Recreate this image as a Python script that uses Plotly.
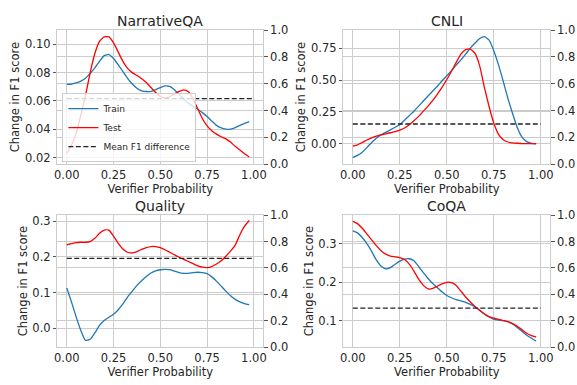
import plotly.graph_objects as go

# ---------------- data ----------------
verifier_prob = [0.000, 0.025, 0.050, 0.075, 0.100, 0.125, 0.150, 0.175, 0.200, 0.225,
                 0.250, 0.275, 0.300, 0.325, 0.350, 0.375, 0.400, 0.425, 0.450, 0.475,
                 0.500, 0.525, 0.550, 0.575, 0.600, 0.625, 0.650, 0.675, 0.700, 0.725,
                 0.750, 0.775, 0.800, 0.825, 0.850, 0.875, 0.900, 0.925, 0.950, 0.975]
mean_x = [0.0, 1.0]

narrativeqa_train = [0.0717, 0.0720, 0.0727, 0.0740, 0.0761, 0.0795, 0.0834, 0.0880, 0.0920, 0.0928,
                     0.0900, 0.0855, 0.0808, 0.0760, 0.0720, 0.0690, 0.0672, 0.0667, 0.0668, 0.0680,
                     0.0695, 0.0706, 0.0703, 0.0680, 0.0648, 0.0615, 0.0585, 0.0562, 0.0542, 0.0518,
                     0.0490, 0.0458, 0.0428, 0.0410, 0.0401, 0.0402, 0.0412, 0.0428, 0.0442, 0.0455]
narrativeqa_test = [0.0230, 0.0290, 0.0370, 0.0500, 0.0640, 0.0800, 0.0935, 0.1020, 0.1053, 0.1052,
                    0.1010, 0.0945, 0.0880, 0.0830, 0.0800, 0.0780, 0.0757, 0.0730, 0.0695, 0.0660,
                    0.0632, 0.0622, 0.0630, 0.0650, 0.0668, 0.0679, 0.0666, 0.0615, 0.0545, 0.0475,
                    0.0425, 0.0390, 0.0366, 0.0348, 0.0333, 0.0310, 0.0280, 0.0255, 0.0228, 0.0205]
narrativeqa_mean = 0.0617

cnli_train = [-0.110, -0.093, -0.068, -0.032, 0.008, 0.042, 0.068, 0.088, 0.108, 0.128,
              0.150, 0.183, 0.220, 0.255, 0.295, 0.335, 0.375, 0.414, 0.452, 0.495,
              0.535, 0.575, 0.618, 0.660, 0.705, 0.752, 0.792, 0.828, 0.842, 0.815,
              0.730, 0.620, 0.490, 0.355, 0.235, 0.125, 0.050, 0.015, 0.002, -0.002]
cnli_test = [-0.020, -0.010, 0.008, 0.028, 0.045, 0.058, 0.068, 0.077, 0.085, 0.093,
             0.105, 0.122, 0.148, 0.180, 0.214, 0.255, 0.295, 0.340, 0.390, 0.445,
             0.505, 0.570, 0.640, 0.705, 0.740, 0.745, 0.710, 0.610, 0.440, 0.290,
             0.160, 0.072, 0.030, 0.012, 0.005, 0.002, 0.000, 0.000, 0.000, 0.000]
cnli_mean = 0.154

quality_train = [0.113, 0.074, 0.032, -0.006, -0.034, -0.031, -0.013, 0.008, 0.022, 0.031,
                 0.039, 0.052, 0.068, 0.088, 0.104, 0.120, 0.133, 0.145, 0.155, 0.161,
                 0.164, 0.165, 0.164, 0.160, 0.156, 0.154, 0.154, 0.156, 0.157, 0.156,
                 0.153, 0.144, 0.132, 0.118, 0.104, 0.091, 0.081, 0.074, 0.069, 0.066]
quality_test = [0.234, 0.237, 0.240, 0.241, 0.241, 0.243, 0.252, 0.266, 0.275, 0.275,
                0.258, 0.238, 0.222, 0.213, 0.211, 0.215, 0.221, 0.226, 0.229, 0.229,
                0.226, 0.220, 0.213, 0.206, 0.199, 0.193, 0.187, 0.181, 0.175, 0.171,
                0.170, 0.173, 0.180, 0.189, 0.202, 0.216, 0.233, 0.262, 0.286, 0.302]
quality_mean = 0.196

coqa_train = [0.333, 0.328, 0.316, 0.300, 0.280, 0.258, 0.242, 0.235, 0.238, 0.247,
              0.255, 0.260, 0.261, 0.256, 0.241, 0.225, 0.210, 0.197, 0.186, 0.175,
              0.166, 0.160, 0.155, 0.152, 0.148, 0.143, 0.137, 0.128, 0.118, 0.110,
              0.104, 0.102, 0.101, 0.098, 0.092, 0.083, 0.073, 0.063, 0.055, 0.048]
coqa_test = [0.358, 0.352, 0.340, 0.325, 0.310, 0.295, 0.282, 0.273, 0.268, 0.266,
             0.264, 0.259, 0.247, 0.229, 0.208, 0.192, 0.183, 0.184, 0.190, 0.196,
             0.200, 0.199, 0.192, 0.177, 0.162, 0.149, 0.137, 0.127, 0.118, 0.111,
             0.107, 0.104, 0.101, 0.098, 0.093, 0.086, 0.077, 0.068, 0.062, 0.058]
coqa_mean = 0.133

titles = ["NarrativeQA", "CNLI", "Quality", "CoQA"]
series_names = ["Train", "Test", "Mean F1 difference"]
x_ticks = [0.0, 0.25, 0.5, 0.75, 1.0]
right_ticks = [0.0, 0.2, 0.4, 0.6, 0.8, 1.0]
left_ticks = [
    [0.02, 0.04, 0.06, 0.08, 0.10],
    [0.00, 0.25, 0.50, 0.75],
    [0.0, 0.1, 0.2, 0.3],
    [0.1, 0.2, 0.3],
]

# ---------------- styling ----------------
W, H = 577, 385
FONT = "DejaVu Sans"
TXT = "#262626"
GRID = "#cccccc"
BLUE = "#1f77b4"
RED = "#ff0000"

datasets = [
    (narrativeqa_train, narrativeqa_test, narrativeqa_mean),
    (cnli_train, cnli_test, cnli_mean),
    (quality_train, quality_test, quality_mean),
    (coqa_train, coqa_test, coqa_mean),
]
tick_formats = [".2f", ".2f", ".1f", ".1f"]
y_ranges = [[0.0155, 0.1100], [-0.162, 0.894], [-0.053, 0.317], [0.032, 0.374]]

# pixel boxes (left, right, top, bottom)
boxes = [(55, 263, 24, 163), (344, 553, 24, 163), (55, 263, 216, 353), (344, 553, 216, 353)]

fig = go.Figure()
layout = dict(
    width=W, height=H,
    margin=dict(l=0, r=0, t=0, b=0),
    paper_bgcolor="white", plot_bgcolor="white",
    font=dict(family=FONT, size=11.5, color=TXT),
    showlegend=True,
    legend=dict(x=60 / W, y=1 - 161 / H, xanchor="left", yanchor="bottom",
                bgcolor="rgba(255,255,255,0.8)", bordercolor=GRID, borderwidth=1,
                font=dict(size=9, color=TXT), itemwidth=30, tracegroupgap=0),
    annotations=[],
)

for i, ((tr, te, mn), (l, r, t, b)) in enumerate(zip(datasets, boxes)):
    n = i + 1
    xa = "x" if n == 1 else f"x{n}"
    ya = "y" if n == 1 else f"y{n}"
    y2n = n + 4
    layout[f"xaxis{n}"] = dict(
        domain=[l / W, r / W], anchor=ya, range=[-0.05, 1.05],
        tickvals=x_ticks, tickformat=".2f", showgrid=True, gridcolor=GRID, gridwidth=1,
        zeroline=False, showline=True, mirror=True, linecolor=GRID, linewidth=1,
        ticks="", tickfont=dict(size=11.5, color=TXT),
        title=dict(text="Verifier Probability", font=dict(size=11.5, color=TXT), standoff=3),
    )
    layout[f"yaxis{n}"] = dict(
        domain=[1 - b / H, 1 - t / H], anchor=xa, range=y_ranges[i],
        tickvals=left_ticks[i], tickformat=tick_formats[i],
        showgrid=True, gridcolor=GRID, gridwidth=1, zeroline=False,
        showline=True, mirror=True, linecolor=GRID, linewidth=1,
        ticks="outside", ticklen=3.5, tickwidth=1, tickcolor="#555555",
        tickfont=dict(size=11.5, color=TXT),
        title=dict(text="Change in F1 score", font=dict(size=11.5, color=TXT), standoff=2),
    )
    layout[f"yaxis{y2n}"] = dict(
        overlaying=ya, anchor=xa, side="right", range=[0, 1],
        tickvals=right_ticks, tickformat=".1f",
        showgrid=True, gridcolor=GRID, gridwidth=1, zeroline=False,
        showline=True, linecolor=GRID, linewidth=1,
        ticks="outside", ticklen=3.5, tickwidth=1, tickcolor="#555555",
        tickfont=dict(size=11.5, color=TXT),
    )
    layout["annotations"].append(dict(
        text=titles[i], x=(l + r) / 2 / W, y=1 - (t - 9.5) / H, xref="paper", yref="paper",
        xanchor="center", yanchor="middle", showarrow=False,
        font=dict(size=14, color=TXT, family=FONT),
    ))
    first = (n == 1)
    # empty trace so that the twin (right-hand) axis is registered and drawn
    fig.add_trace(go.Scatter(x=[None], y=[None], mode="lines", xaxis=xa, yaxis=f"y{y2n}",
                             showlegend=False, hoverinfo="skip"))
    fig.add_trace(go.Scatter(x=verifier_prob, y=tr, mode="lines", name=series_names[0],
                             line=dict(color=BLUE, width=1.3, shape="spline", smoothing=0.5),
                             xaxis=xa, yaxis=ya, showlegend=first, legendrank=1))
    fig.add_trace(go.Scatter(x=verifier_prob, y=te, mode="lines", name=series_names[1],
                             line=dict(color=RED, width=1.3, shape="spline", smoothing=0.5),
                             xaxis=xa, yaxis=ya, showlegend=first, legendrank=2))
    fig.add_trace(go.Scatter(x=mean_x, y=[mn, mn], mode="lines", name=series_names[2],
                             line=dict(color="#222222", width=1.3, dash="5px,2.5px"),
                             xaxis=xa, yaxis=ya, showlegend=first, legendrank=3))

fig.update_layout(**layout)
fig.write_html("out.html")
